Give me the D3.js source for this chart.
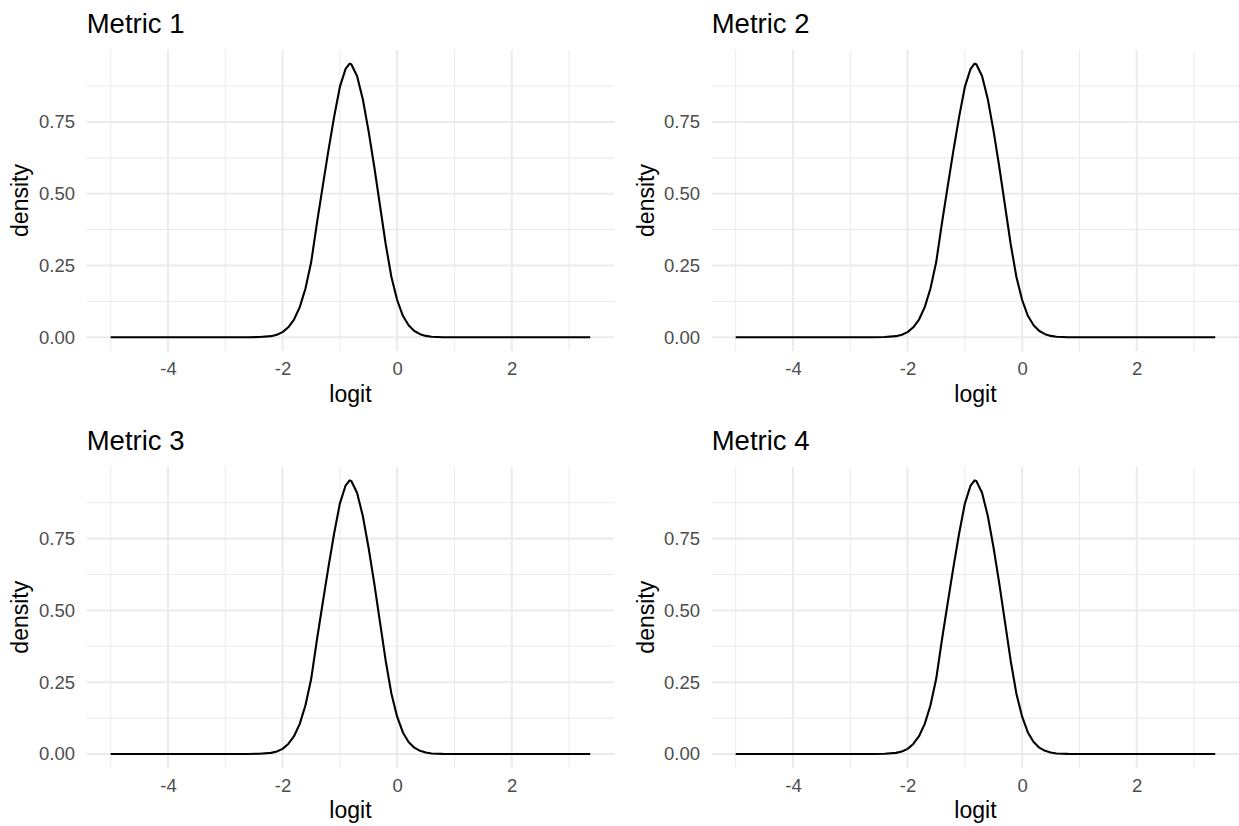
<!DOCTYPE html>
<html>
<head>
<meta charset="utf-8">
<script src="https://cdn.jsdelivr.net/npm/d3@7"></script>
<style>
  html, body { margin: 0; padding: 0; background: #ffffff; }
  svg { display: block; }
  text { font-family: "Liberation Sans", Arial, Helvetica, sans-serif; }
</style>
</head>
<body>
<svg id="chart" width="1239" height="826"></svg>
<script>
// Panel titles
const metricNames = ["Metric 1", "Metric 2", "Metric 3", "Metric 4"];

// Evaluation grid of the density estimate (logit scale)
const logitGrid = [
  -5.0, -4.0, -3.0, -2.6, -2.4, -2.2, -2.1, -2.0, -1.9, -1.8, -1.7, -1.6, -1.5,
  -1.4, -1.3, -1.2, -1.1, -1.0, -0.9, -0.83, -0.8, -0.7, -0.6, -0.5, -0.4, -0.3,
  -0.2, -0.1, 0.0, 0.1, 0.2, 0.3, 0.4, 0.5, 0.6, 0.8, 1.0, 2.0, 3.37
];

// Density values for each metric at the grid points above
const densityMetric1 = [
  0, 0, 0, 0.0002, 0.001, 0.004, 0.009, 0.018, 0.035, 0.062, 0.105, 0.17, 0.262,
  0.398, 0.525, 0.65, 0.768, 0.872, 0.935, 0.953, 0.951, 0.91, 0.83, 0.72, 0.595, 0.46,
  0.325, 0.21, 0.13, 0.075, 0.042, 0.022, 0.011, 0.005, 0.002, 0.0005, 0.0001, 0, 0
];
const densityMetric2 = densityMetric1.slice();
const densityMetric3 = densityMetric1.slice();
const densityMetric4 = densityMetric1.slice();
const densities = [densityMetric1, densityMetric2, densityMetric3, densityMetric4];

// Axis breaks
const xMajorTicks = [-4, -2, 0, 2];
const xMinorTicks = [-5, -3, -1, 1, 3];
const yMajorTicks = [0, 0.25, 0.5, 0.75];
const yMinorTicks = [0.125, 0.375, 0.625, 0.875];
const xLabel = "logit";
const yLabel = "density";

// Layout of the 2x2 grid of panels
const panelLefts = [86.7, 711.7];
const panelTops = [50, 466.7];
const panelW = 527.5;
const panelH = 301;

const svg = d3.select("#chart");
const gridColor = "#ebebeb";
const tickColor = "#4d4d4d";

function expanded(lo, hi) {
  const pad = (hi - lo) * 0.05;
  return [lo - pad, hi + pad];
}

metricNames.forEach((name, i) => {
  const col = i % 2, row = Math.floor(i / 2);
  const left = panelLefts[col], top = panelTops[row];
  const data = logitGrid.map((x, k) => ({ x: x, y: densities[i][k] }));

  const x = d3.scaleLinear()
    .domain(expanded(d3.min(data, d => d.x), d3.max(data, d => d.x)))
    .range([0, panelW]);
  const y = d3.scaleLinear()
    .domain(expanded(0, d3.max(data, d => d.y)))
    .range([panelH, 0]);

  const g = svg.append("g").attr("transform", `translate(${left},${top})`);

  // minor grid
  g.append("g").selectAll("line").data(xMinorTicks).join("line")
    .attr("x1", d => x(d)).attr("x2", d => x(d))
    .attr("y1", 0).attr("y2", panelH)
    .attr("stroke", gridColor).attr("stroke-width", 1.05);
  g.append("g").selectAll("line").data(yMinorTicks).join("line")
    .attr("x1", 0).attr("x2", panelW)
    .attr("y1", d => y(d)).attr("y2", d => y(d))
    .attr("stroke", gridColor).attr("stroke-width", 1.05);
  // major grid
  g.append("g").selectAll("line").data(xMajorTicks).join("line")
    .attr("x1", d => x(d)).attr("x2", d => x(d))
    .attr("y1", 0).attr("y2", panelH)
    .attr("stroke", gridColor).attr("stroke-width", 2.1);
  g.append("g").selectAll("line").data(yMajorTicks).join("line")
    .attr("x1", 0).attr("x2", panelW)
    .attr("y1", d => y(d)).attr("y2", d => y(d))
    .attr("stroke", gridColor).attr("stroke-width", 2.1);

  // density curve
  const line = d3.line().x(d => x(d.x)).y(d => y(d.y)).curve(d3.curveLinear);
  g.append("path").datum(data)
    .attr("d", line)
    .attr("fill", "none")
    .attr("stroke", "#000000")
    .attr("stroke-width", 2.1)
    .attr("stroke-linejoin", "round");

  // axes
  const xAxis = g.append("g").attr("transform", `translate(0,${panelH})`)
    .call(d3.axisBottom(x).tickValues(xMajorTicks).tickSize(0).tickPadding(10.9)
      .tickFormat(d3.format("d")));
  const yAxis = g.append("g")
    .call(d3.axisLeft(y).tickValues(yMajorTicks).tickSize(0).tickPadding(11.7)
      .tickFormat(d3.format(".2f")));
  [xAxis, yAxis].forEach(a => {
    a.select(".domain").remove();
    a.selectAll("text")
      .attr("fill", tickColor)
      .style("font-size", "18.5px")
      .style("font-family", '"Liberation Sans", Arial, sans-serif');
  });
  xAxis.selectAll("text").text(d => d3.format("d")(d).replace("\u2212", "-"));

  // axis titles
  g.append("text")
    .attr("x", panelW / 2).attr("y", 351.5)
    .attr("text-anchor", "middle")
    .style("font-size", "23px").attr("fill", "#000")
    .text(xLabel);
  g.append("text")
    .attr("transform", `translate(${28.5 - left + (col ? 625 : 0)},${panelH / 2}) rotate(-90)`)
    .attr("text-anchor", "middle")
    .style("font-size", "23px").attr("fill", "#000")
    .text(yLabel);

  // panel title
  g.append("text")
    .attr("x", 0).attr("y", -16.7)
    .style("font-size", "27.5px").attr("fill", "#000")
    .text(name);
});
</script>
</body>
</html>
